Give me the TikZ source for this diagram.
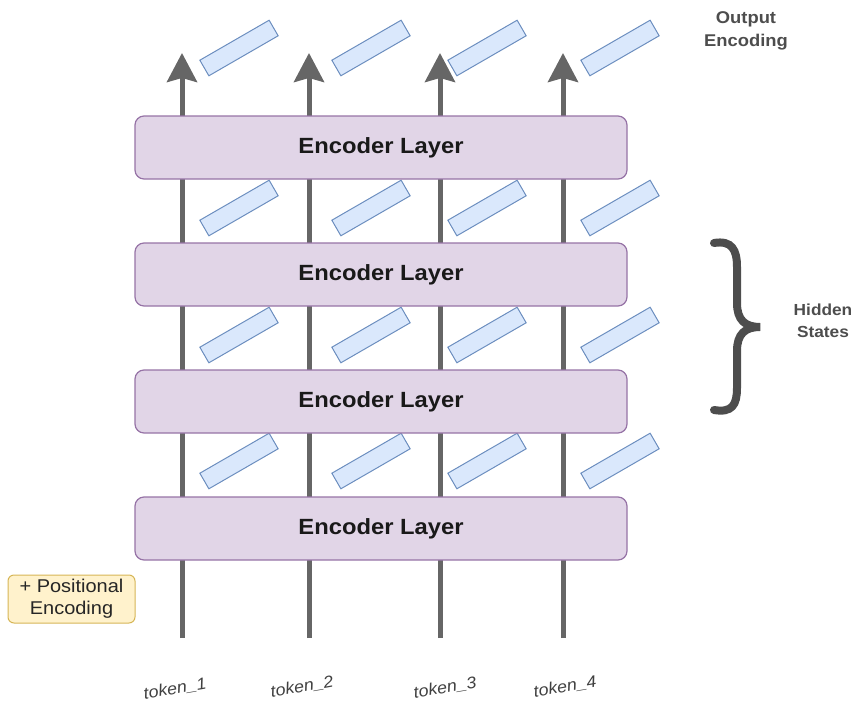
\documentclass[tikz,border=0pt]{standalone}
\usepackage{fontspec}
\setmainfont[FakeStretch=1.08]{Liberation Sans}
\usetikzlibrary{arrows.meta}
\definecolor{layerfill}{HTML}{E1D5E7}
\definecolor{layerdraw}{HTML}{9673A6}
\definecolor{vecfill}{HTML}{DAE8FC}
\definecolor{vecdraw}{HTML}{6C8EBF}
\definecolor{posfill}{HTML}{FFF2CC}
\definecolor{posdraw}{HTML}{D6B656}
\definecolor{arrowgray}{HTML}{666666}
\definecolor{bracegray}{HTML}{4D4D4D}
\tikzset{
  layerbox/.style={draw=layerdraw, fill=layerfill, line width=1.2pt, rounded corners=9pt,
    minimum width=492pt, minimum height=63pt, inner sep=0pt,
    font=\fontsize{22}{26}\selectfont\bfseries, text=black!90},
  vecbox/.style={draw=vecdraw, fill=vecfill, line width=1pt, minimum width=80pt,
    minimum height=18pt, inner sep=0pt, rotate=30},
  flowarrow/.style={draw=arrowgray, line width=5pt,
    -{Stealth[length=29pt,width=30pt,inset=4pt]}},
  tokenlabel/.style={font=\fontsize{16.5}{19}\selectfont\itshape, text=black!75, rotate=10},
  sidelabel/.style={font=\fontsize{16}{22}\selectfont\bfseries, text=bracegray, align=center},
  posbox/.style={draw=posdraw, fill=posfill, line width=1pt, rounded corners=6pt,
    minimum width=127pt, minimum height=48pt, inner sep=0pt, align=center,
    font=\fontsize{18.5}{22}\selectfont, text=black!85}
}
\begin{document}
\begin{tikzpicture}[x=1pt,y=-1pt]
\useasboundingbox (0,0) rectangle (860,704);
% arrows
\foreach \i/\x in {1/182,2/309,3/440,4/563}{
  \coordinate (b\i) at (\x,638);
  \coordinate (t\i) at (\x,53);
  \draw[flowarrow] (b\i) -- (t\i);
}
% vectors
\foreach \r/\y in {1/48,2/208,3/335,4/461}{
  \node[vecbox] (v\r a) at (239,\y) {};
  \node[vecbox] (v\r b) at (371,\y) {};
  \node[vecbox] (v\r c) at (487,\y) {};
  \node[vecbox] (v\r d) at (620,\y) {};
}
% encoder layers
\node[layerbox] (L1) at (381,147.5) {Encoder Layer};
\node[layerbox] (L2) at (381,274.5) {Encoder Layer};
\node[layerbox] (L3) at (381,401.5) {Encoder Layer};
\node[layerbox] (L4) at (381,528.5) {Encoder Layer};
% brace
\draw[bracegray, line width=8pt, line cap=round]
  (714,243) .. controls (732,240) and (737,250) .. (737,267) -- (737,303)
  .. controls (737,320) and (745,327) .. (760,327)
  .. controls (745,327) and (737,334) .. (737,351) -- (737,388)
  .. controls (737,405) and (732,413) .. (714,410);
\node[sidelabel] (hidden) at (823,321) {Hidden\\States};
\node[sidelabel, font=\fontsize{17}{23}\selectfont\bfseries] (outenc) at (746,31) {Output\\Encoding};
% positional encoding
\node[posbox] (pos) at (71.5,599) {+ Positional\\Encoding};
% tokens
\node[tokenlabel] (tk1) at (175,689) {token\_1};
\node[tokenlabel] (tk2) at (302,687) {token\_2};
\node[tokenlabel] (tk3) at (445,688) {token\_3};
\node[tokenlabel] (tk4) at (565,687) {token\_4};
\end{tikzpicture}
\end{document}
